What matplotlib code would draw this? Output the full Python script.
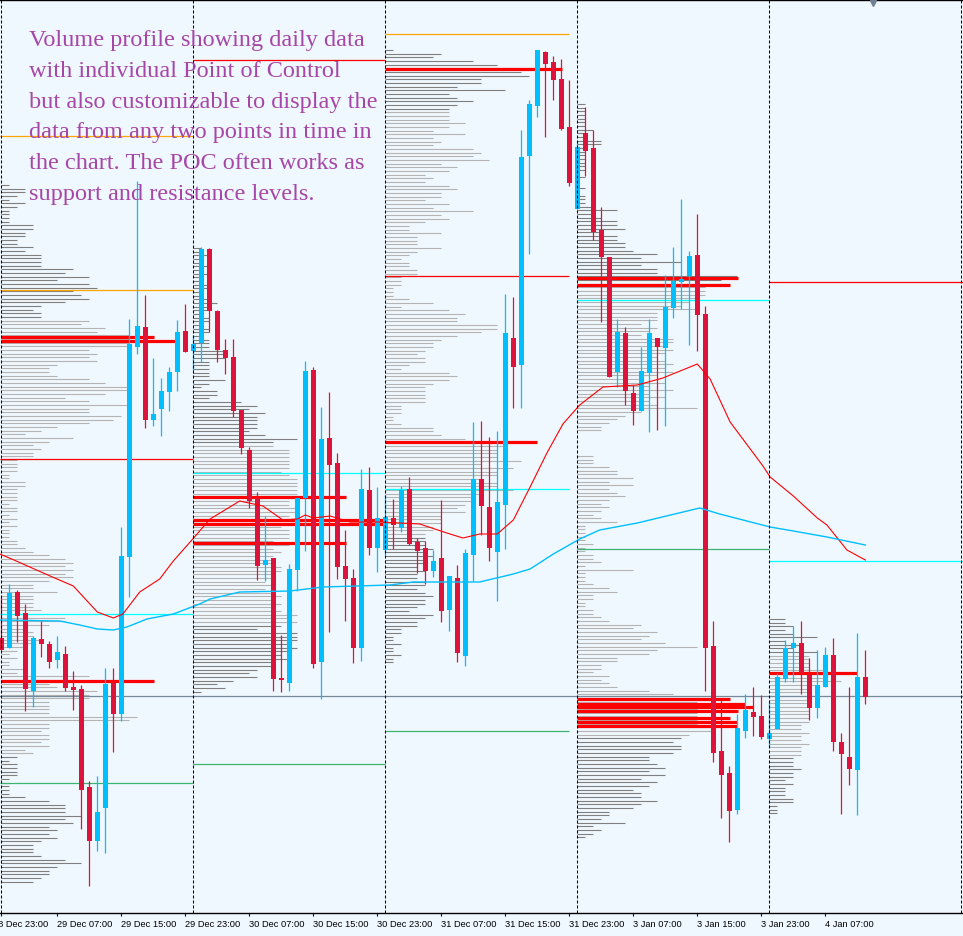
import matplotlib
matplotlib.use("Agg")
import matplotlib.pyplot as plt
import matplotlib.transforms as mtransforms
from matplotlib.collections import LineCollection

# ---------------- data (hourly candles, arbitrary price units) ----------------
open_ = [361,351,407,386,308,360,355,339,345,312, 310,212,158,191,316,285,442,652,672,579,
         590,607,627,668,648,656,750,688,649,642, 589,549,501,434,441,321,316,429,501,629,
         337,561,536,433,421,351,509,451,449,481, 471,510,457,451,428,441,389,421,343,444,
         520,492,447,494,661,634,843,893,947,937, 920,872,790,866,851,769,742,627,666,606,
         588,626,661,651,691,717,723,744,685,353, 248,226,189,268,287,283,260,270,320,351,
         356,324,291,312,344,257,242,229,322]
high = [402,415,409,395,363,378,358,363,353,328, 314,218,223,331,331,472,680,818,704,641,
        621,632,679,695,664,752,751,689,660,660, 589,552,507,483,441,364,435,501,638,632,
        592,607,546,469,430,530,532,512,504,500, 513,522,461,458,449,499,423,434,450,577,
        578,562,568,705,702,869,899,949,948,943, 940,919,857,892,869,792,742,680,672,614,
        652,680,661,724,752,800,748,785,693,378, 299,233,285,305,312,304,297,326,359,373,
        378,341,349,352,361,266,312,366,349]
low = [349,351,357,288,292,342,331,331,308,289, 170,113,148,146,247,278,402,645,571,573,
       563,588,608,647,629,637,667,637,625,582, 545,491,419,418,308,307,308,408,448,331,
       300,367,420,378,336,338,444,427,444,450, 467,454,426,415,422,377,368,337,333,418,
       464,438,398,450,591,591,745,882,862,899, 869,813,790,823,759,677,622,612,594,574,
       588,567,569,573,681,690,654,648,308,237, 181,157,185,261,263,260,252,270,317,317,
       305,279,281,312,248,185,214,184,295]
close = [349,406,383,310,361,355,337,347,311,309, 209,158,187,315,285,443,655,673,579,585,
         608,627,667,647,655,750,688,649,641,588, 551,498,433,439,320,319,430,501,628,335,
         560,534,432,420,351,510,451,481,482,474, 509,455,448,428,438,388,423,346,446,520,
         493,451,497,666,632,842,895,949,935,919, 870,816,852,848,767,742,622,667,608,588,
         628,666,652,692,718,720,743,684,351,246, 224,188,271,289,282,262,266,322,351,356,
         326,291,314,344,257,245,230,322,302]

# time axis labels (candle index of each label)
tick_index = [-1, 7, 15, 23, 31, 39, 47, 55, 63, 71, 79, 87, 95, 103]
tick_labels = ["28 Dec 23:00", "29 Dec 07:00", "29 Dec 15:00", "29 Dec 23:00",
               "30 Dec 07:00", "30 Dec 15:00", "30 Dec 23:00", "31 Dec 07:00",
               "31 Dec 15:00", "31 Dec 23:00", "3 Jan 07:00", "3 Jan 15:00",
               "3 Jan 23:00", "4 Jan 07:00"]
day_starts = [0, 24, 48, 72, 96, 120]

# daily volume profiles: counts per price row, from the top row downward
profile_step = 11 / 3
day0_top = 814
day0_counts = [1,3,3,2,1,
  3,2,1,1,1,1,4,4,3,3, 2,2,4,3,5,5,5,5,9,8, 11,7,11,12,9,10,11,8,5,4, 5,5,11,10,13,12,16,16,16,16,
  11,12,11,12,7,6,6,7,11,13, 16,16,13,8,11,16,11,11,15,14, 11,7,5,3,9,6,4,5,4,4, 2,2,2,2,1,1,3,3,2,2,
  2,2,1,2,2,1,2,1,2,1, 1,1,2,2,3,4,6,8,9,8, 9,8,9,
  6,4,4,7,4,4,4,4,5,5, 8,8,6,3,4,4,5,4,3,2, 1,2,1,1,3,2,11,6,6,7, 12,11,11,6,6,6,6,17,16,6,
  6,5,6,6,5,6,3,4,2,1, 2,2,2,2,1,1,1,1,1,3, 6,8,8,8,10,8,9,6,7,6, 7,5,4,4,4,5,8,10,7,6, 6,5,4]
day1_top = 751
day1_counts = [1,1,2,1,1,2,1,2,1,1, 2,2,1,1,2,3,2,2,1,2, 2,1,2,2,1,2,2,2,
  4,4,4,2,2,2,2,2,4,2, 1,3,3,2,6,8,7,9,8,8,
  8,8,7,9,13,10,10,12,12,12, 12,12,12,11,12,13,13,13,13,13, 12,12,12,13,13,12,12,13,11,12,
  12,12,10,12,10,11,10,10,10,11, 11,10,10,9,10,9,10,11,10,11, 10,11,13,12,13,11,8,13,13,13,
  12,13,12,11,12,10,10,8,7,8, 5,3,4,1]
day2_top = 949
day2_counts = [1,7,6,11,14,19,17,18,12,12, 9,15,8,9,11,9,8,8,8,8, 10,8,6,10,6,7,6,11,12,11,
  13,7,9,8,5,6,5,8,9,7, 7,5,8,6,11,7,8,5,3,3, 7,4,4,4,7,4,3,2,3,3, 4,4,2,2,2,1,1,1,3,6,
  2,8,10,9,9,14,14,12,9,7, 6,6,5,4,5,5,3,2,8,9, 8,6,5,5,5,5,5,2,2,2, 1,1,2,6,6,7,10,14,15,14,
  14,14,17,12,16,14,14,12,14,14, 16,12,11,11,10,9,10,7,7,7, 6,6,5,5,5,5,6,5,6,5,
  5,4,5,4,4,5,5,4,5,6, 5,5,4,3,6,5,4,4,2,2, 1,1,2,1,1,2,1,1]
day3_top = 895
day3_counts = [1,1,1,1,1,1,1,2,1,1, 3,3,1,1,1,1,1,1,1,0, 1,0,0,1,0,1,1,1,2,5, 2,3,5,5,6,3,5,5,6,6,
  7,10,8,13,8,10,10,20,18,19, 16,16,16,15,14,13,15,10,10,10, 8,10,9,8,12,12,11,12,11,10,
  11,12,11,12,10,8,11,9,12,9, 11,9,10,15,8,6,5,4,3,3, 0,0,0,0,0,0,2,2,2,4,
  5,5,7,4,7,4,5,6,4,3, 4,3,2,3,5,1,1,1,1,1, 2,1,1,2,2,3,1,7,1,1, 1,2,4,5,2,2,1,1,2,2,
  3,4,8,7,10,9,8,11,15,10, 9,5,5,3,3,2,4,3,4,5, 9,12,15,15,15,15,15,15,15,15,
  18,17,14,13,12,13,13,12,9,9, 10,11,9,11,8,10,9,7,8,8, 10,8,7,4,4,3,6,2,3,2, 1]
day4_top = 380
day4_counts = [2,2,3,2,3,6,2,4,3,6, 5,5,5,5,7,9,7,9,6,5, 5,4,5,5,5,5,5,5,5,4,
  4,5,4,4,5,4,4,4,3,3, 3,4,3,3,2,3,2,2,2,3, 3,1,1,1]
profile_tops = [day0_top, day1_top, day2_top, day3_top, day4_top]
profile_counts = [day0_counts, day1_counts, day2_counts, day3_counts, day4_counts]
value_area_high = [680, 553, 888, 713, 344]
value_area_low = [243, 375, 465, 263, 244]

# point-of-control rows (price, first candle, last candle)
poc_price = [662, 658, 318, 502, 479, 475, 456, 930, 557, 721, 714,
             300, 295, 292, 288, 281, 277, 273, 326]
poc_start = [0, 0, 0, 24, 24, 24, 24, 48, 48, 72, 72, 72, 72, 72, 72, 72, 72, 72, 96]
poc_end = [19.1, 21.7, 19.1, 43.1, 48, 48, 43.1, 70.1, 67, 92.05, 91.1,
           91.1, 93.0, 93.9, 92.05, 91.1, 91.9, 91.9, 107.0]

# daily reference levels (price, first candle, last candle)
orange_levels = [(863, -0.2, 24), (709, -0.2, 24), (965, 48, 71)]
red_levels = [(540, -0.2, 24), (939, 24, 48), (723, 48, 71), (717, 96, 121)]
cyan_levels = [(385, -0.2, 24), (526, 24, 48), (510, 48, 71), (699, 72, 96), (438, 96, 121)]
green_levels = [(216, -0.2, 24), (235, 24, 48), (268, 48, 71), (450, 72, 96)]
bid_price = 303

# moving averages
red_ma_x = [-0.2, 1.3, 6.1, 9.0, 12.0, 14.0, 15.2, 17.3, 19.8, 21.5, 23.6, 26.1, 29.8, 32.7, 35.2,
            37.0, 38.0, 39.0, 41.1, 43.6, 47.3, 52.3, 55.7, 57.7, 59.8, 62.0, 64.0, 66.1, 68.2,
            70.2, 72.3, 75.2, 79.5, 82.7, 87.0, 88.6, 91.1, 95.2, 96.1, 99.0, 102.0, 103.2,
            105.7, 108.0]
red_ma_y = [445, 440, 423, 413, 387, 381, 385, 407, 420, 438, 457, 480, 498, 493, 479,
            480, 484, 481, 483, 477, 477, 475, 466, 461, 465, 465, 479, 512, 546,
            575, 594, 612, 614, 621, 635, 620, 577, 533, 522, 503, 481, 474, 449, 439]
blue_ma_x = [-0.2, 7.3, 9.8, 12.0, 14.0, 15.7, 18.2, 21.5, 24.8, 26.1, 29.8, 36.1, 40.2, 48.6,
             51.5, 59.8, 64.0, 66.1, 69.0, 72.3, 74.8, 79.5, 87.3, 89.8, 96.1, 99.0, 103.2, 108.0]
blue_ma_y = [379, 378, 374, 370, 369, 372, 380, 385, 395, 400, 407, 408, 412, 414,
             417, 417, 425, 430, 445, 460, 469, 476, 491, 485, 472, 468, 462, 454]

caption = ["Volume profile showing daily data",
           "with individual Point of Control",
           "but also customizable to display the",
           "data from any two points in time in",
           "the chart. The POC often works as",
           "support and resistance levels."]

# ---------------- drawing ----------------
W, H = 963, 937
BG = "#F0F8FF"
BULL, BEAR = "#00BFFF", "#DC143C"
fig = plt.figure(figsize=(W / 100, H / 100), dpi=100)
fig.patch.set_facecolor(BG)
ax = fig.add_axes([0, (H - 914) / H, 1, 913 / H])
ax.set_facecolor(BG)

# volume profiles
for k in range(5):
    x0 = day_starts[k]
    segs_light, segs_dark = [], []
    for j, c in enumerate(profile_counts[k]):
        if c <= 0:
            continue
        p = profile_tops[k] - j * profile_step
        seg = [(x0, p), (x0 + c, p)]
        if value_area_low[k] <= p <= value_area_high[k]:
            segs_light.append(seg)
        else:
            segs_dark.append(seg)
    ax.add_collection(LineCollection(segs_light, colors="#B4B4B4", linewidths=0.8, zorder=1))
    ax.add_collection(LineCollection(segs_dark, colors="#7F7F7F", linewidths=0.8, zorder=1))

# reference levels
for levels, col in [(orange_levels, "#FFA500"), (red_levels, "#FF0000"),
                    (cyan_levels, "#00FFFF"), (green_levels, "#3CB371")]:
    for p, a, b in levels:
        ax.hlines(p, a, b, colors=col, linewidth=0.9, zorder=2)
ax.axhline(bid_price, color="#778899", linewidth=0.9, zorder=2)

# POC rows
ax.hlines(poc_price, poc_start, poc_end, colors="#FF0000", linewidth=2.3, zorder=2.5)

# candles
idx = list(range(len(open_)))
cols = [BULL if c > o else BEAR for o, c in zip(open_, close)]
ax.vlines(idx, low, high, colors=cols, linewidth=0.9, zorder=3)
bottoms = [min(o, c) for o, c in zip(open_, close)]
heights = [max(abs(c - o), 1.2) for o, c in zip(open_, close)]
ax.bar(idx, heights, bottom=bottoms, width=0.6, color=cols, linewidth=0, zorder=3.5)

# moving averages
ax.plot(red_ma_x, red_ma_y, color="#FF0000", linewidth=0.8, zorder=4)
ax.plot(blue_ma_x, blue_ma_y, color="#00BFFF", linewidth=1.0, zorder=4)

# day separators
for d in day_starts:
    ax.axvline(d, color="black", linewidth=0.75, linestyle=(0, (2.9, 1.9)), zorder=5)

# chart shift marker
ax.plot([109], [996], marker="v", markersize=5, color="#708090", clip_on=False, zorder=6)

# axes styling
for s in ["left", "right"]:
    ax.spines[s].set_visible(False)
for s in ["top", "bottom"]:
    ax.spines[s].set_linewidth(1.0)
    ax.spines[s].set_color("black")
ax.set_yticks([])
ax.set_xticks(tick_index[1:] + [0])
ax.set_xticklabels(tick_labels[1:] + [""], ha="left", fontsize=6.7, family="Liberation Sans")
ax.tick_params(axis="x", direction="out", length=2.5, width=0.8, pad=1.5)
ax.set_xlim(-0.1625, 120.21)
ax.set_ylim(86, 999)

# first label sits partly outside the left edge
trans = mtransforms.offset_copy(
    mtransforms.blended_transform_factory(ax.transData, ax.transAxes),
    fig=fig, x=0, y=-4.0, units="points")
ax.text(tick_index[0], 0, tick_labels[0], transform=trans, ha="left", va="top",
        fontsize=6.7, family="Liberation Sans", clip_on=False)

# caption
for n, line in enumerate(caption):
    fig.text(29 / W, 1 - (46 + n * 30.8) / H, line, fontsize=17.5, family="Liberation Serif",
             color="#A646A6", va="baseline", ha="left", zorder=7)

fig.savefig("out.png", dpi=100, facecolor=BG)
